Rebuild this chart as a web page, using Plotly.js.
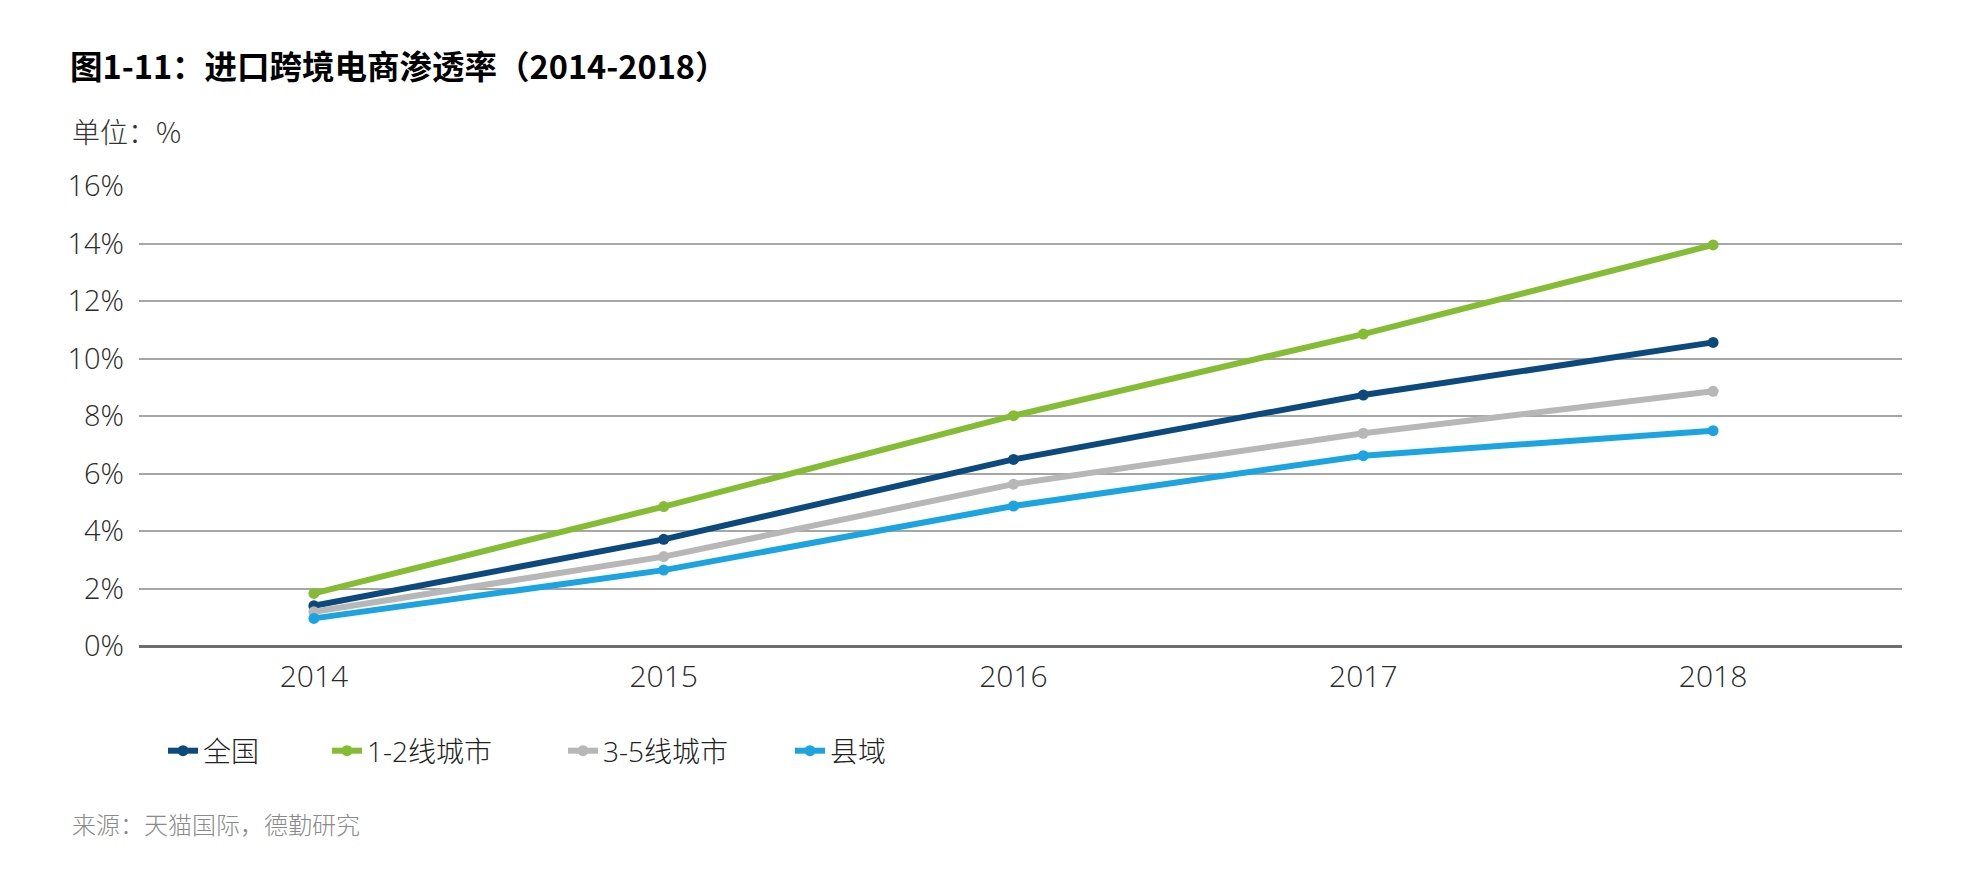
<!DOCTYPE html>
<html>
<head>
<meta charset="utf-8">
<script src="https://cdn.plot.ly/plotly-3.0.1.min.js"></script>
<style>
html,body{margin:0;padding:0;background:#fff;}
#chart{width:1986px;height:884px;}
</style>
</head>
<body>
<div id="chart"></div>
<script>
const years = ['2014', '2015', '2016', '2017', '2018'];
const seriesNames = ['全国', '1-2线城市', '3-5线城市', '县域'];
const national = [1.40, 3.71, 6.49, 8.73, 10.56];
const tier12 = [1.83, 4.85, 8.01, 10.85, 13.95];
const tier35 = [1.19, 3.11, 5.63, 7.40, 8.86];
const county = [0.96, 2.64, 4.87, 6.62, 7.49];
const yTickVals = [0, 2, 4, 6, 8, 10, 12, 14, 16];
const yTickText = ['0%', '2%', '4%', '6%', '8%', '10%', '12%', '14%', '16%'];
const colors = ['#0C4A7E', '#84BC34', '#B7B7B7', '#1BA4E0'];
const values = [national, tier12, tier35, county];

const cjk = '"Open Sans", "Noto Sans CJK SC", sans-serif';
const legendIds = ['legend', 'legend2', 'legend3', 'legend4'];
const legendTextStart = [203, 367, 603, 830];

const traces = values.map((v, i) => ({
  type: 'scatter',
  mode: 'lines+markers',
  name: seriesNames[i],
  legend: legendIds[i],
  x: years,
  y: v,
  line: {color: colors[i], width: 6},
  marker: {color: colors[i], size: 11},
  hoverinfo: 'skip'
}));

const layout = {
  width: 1986,
  height: 884,
  paper_bgcolor: '#ffffff',
  plot_bgcolor: '#ffffff',
  margin: {l: 139, r: 84, t: 186, b: 238, autoexpand: false},
  showlegend: true,
  title: {
    text: '<b>图1-11：进口跨境电商渗透率（2014-2018）</b>',
    font: {family: '"Noto Sans CJK SC", sans-serif', size: 32.5, color: '#000000'},
    x: 70 / 1986, xanchor: 'left', xref: 'container',
    y: 1 - 68 / 884, yanchor: 'middle', yref: 'container'
  },
  xaxis: {
    type: 'category',
    range: [-0.5, 4.54],
    showgrid: false,
    zeroline: false,
    showline: false,
    ticks: '',
    tickfont: {family: cjk, size: 30, color: '#2b2b2b', weight: 300},
    ticklabelstandoff: 10,
    fixedrange: true
  },
  yaxis: {
    range: [0, 16],
    tickvals: yTickVals,
    ticktext: yTickText,
    showgrid: true,
    gridcolor: '#A6A6A6',
    gridwidth: 2,
    zeroline: true,
    zerolinecolor: '#6E6E6E',
    zerolinewidth: 3,
    showline: false,
    ticks: '',
    tickfont: {family: cjk, size: 29, color: '#2b2b2b', weight: 300},
    ticklabelstandoff: 14,
    fixedrange: true
  },
  annotations: [
    {
      text: '单位：%',
      xref: 'paper', yref: 'paper',
      x: (70 - 139) / 1763, xanchor: 'left',
      y: (646 - 131) / 460, yanchor: 'middle',
      showarrow: false,
      font: {family: '"Noto Sans CJK SC", sans-serif', size: 28, color: '#333333', weight: 300}
    },
    {
      text: '来源：天猫国际，德勤研究',
      xref: 'paper', yref: 'paper',
      x: (70 - 139) / 1763, xanchor: 'left',
      y: (646 - 823) / 460, yanchor: 'middle',
      showarrow: false,
      font: {family: '"Noto Sans CJK SC", sans-serif', size: 24, color: '#8a8a8a', weight: 300}
    }
  ]
};

legendIds.forEach((id, i) => {
  layout[id] = {
    orientation: 'h',
    xref: 'container', yref: 'container',
    x: (legendTextStart[i] - 40) / 1986, xanchor: 'left',
    y: 1 - 751 / 884, yanchor: 'middle',
    font: {family: cjk, size: 28, color: '#222222', weight: 300},
    bgcolor: 'rgba(0,0,0,0)'
  };
});

Plotly.newPlot('chart', traces, layout, {displayModeBar: false, staticPlot: true});
</script>
</body>
</html>
